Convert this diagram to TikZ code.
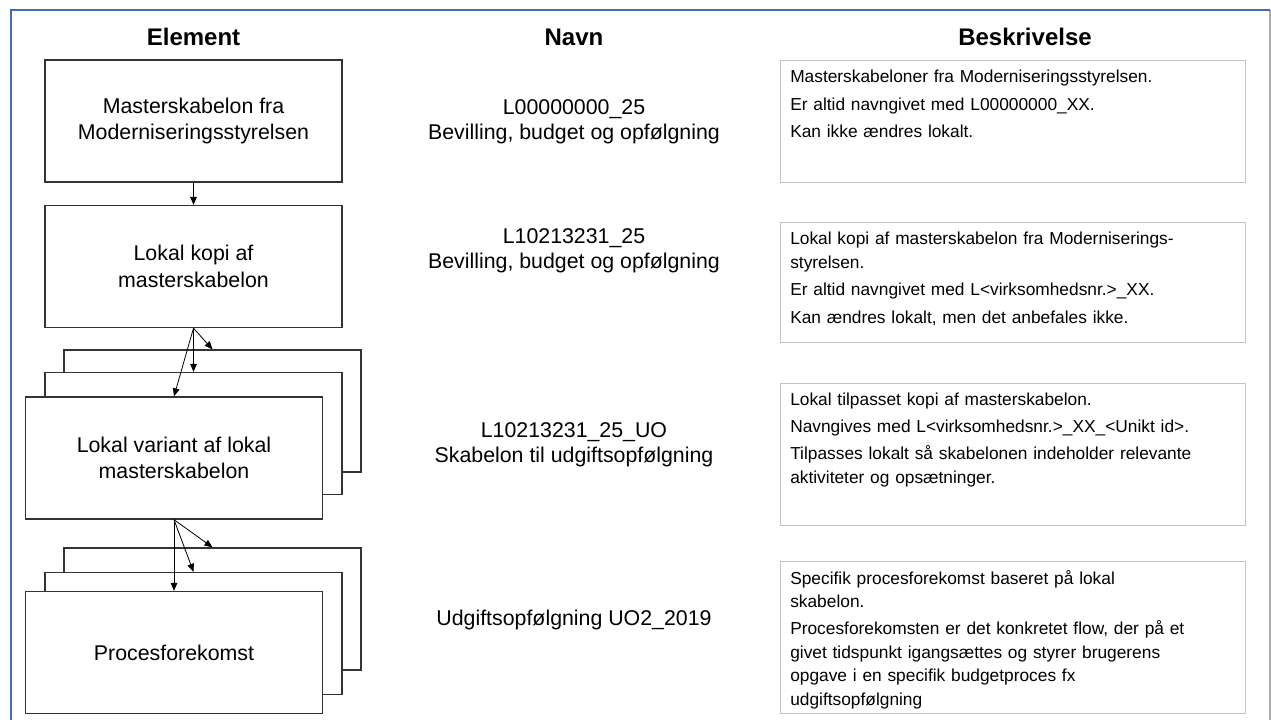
\documentclass[tikz,border=0pt]{standalone}
\usepackage{fontspec}
\setmainfont{Liberation Sans}
\usetikzlibrary{positioning, arrows.meta}

\definecolor{frameblue}{RGB}{68,106,180}
\definecolor{framegray}{RGB}{170,170,170}
\definecolor{descgray}{RGB}{195,195,195}

\begin{document}
\begin{tikzpicture}[
    x=0.75pt, y=-0.75pt,
    element/.style={
        rectangle, draw=black!80, line width=1pt,
        fill=white,
        minimum width=222.75pt, minimum height=91.5pt,
        align=center,
        font=\fontsize{16}{20}\selectfont
    },
    heading/.style={font=\fontsize{18}{22}\selectfont\bfseries},
    navn/.style={align=center, font=\fontsize{16}{18.75}\selectfont},
    descbox/.style={
        rectangle, draw=descgray, line width=0.6pt,
        minimum width=348.75pt, anchor=north west, inner sep=0pt
    },
    desctext/.style={
        anchor=base west, inner sep=0pt,
        text width=350pt, align=left,
        font=\fontsize{13}{17.6}\selectfont
    },
    flow/.style={-{Triangle[length=6pt, width=5pt]}, line width=0.6pt, draw=black}
]
\useasboundingbox (0,0) rectangle (1271,720);

% ============ Frame ============
\draw[framegray, line width=0.8pt] (1270,10) -- (1270,720);
\draw[frameblue, line width=1.2pt] (11,720) -- (11,10) -- (1270,10);

% ============ Column headings ============
\node[heading] (hElement) at (193.5,37) {Element};
\node[heading] (hNavn) at (574,37) {Navn};
\node[heading] (hBeskr) at (1025,37) {Beskrivelse};

% ============ Elements ============
\node[element] (master) at (193.5,121) {Masterskabelon fra\\Moderniseringsstyrelsen};
\node[element] (kopi) at (193.5,266.5) {Lokal kopi af\\masterskabelon};
\node[element] (variantC) at (212.5,411) {};
\node[element] (variantB) at (193.5,433.5) {};
\node[element] (variant) at (174,458) {Lokal variant af lokal\\masterskabelon};
\node[element] (procesC) at (212.5,609) {};
\node[element] (procesB) at (193.5,633.5) {};
\node[element] (proces) at (174,652.5) {Procesforekomst};

% ============ Names ============
\node[navn] (nMaster) at (574,122) {L00000000\_25\\Bevilling, budget og opfølgning};
\node[navn] (nKopi) at (574,251) {L10213231\_25\\Bevilling, budget og opfølgning};
\node[navn] (nVariant) at (574,445) {L10213231\_25\_UO\\Skabelon til udgiftsopfølgning};
\node[navn] (nProces) at (574,620) {Udgiftsopfølgning UO2\_2019};

% ============ Descriptions ============
\node[descbox, minimum height=91.5pt] (dMaster) at (780,60) {};
\node[desctext] (tMaster) at ([shift={(10,23)}]dMaster.north west) {Masterskabeloner fra Moderniseringsstyrelsen.\\[3pt]Er altid navngivet med L00000000\_XX.\\[3pt]Kan ikke ændres lokalt.};

\node[descbox, minimum height=90pt] (dKopi) at (780,222) {};
\node[desctext] (tKopi) at ([shift={(10,23)}]dKopi.north west) {Lokal kopi af masterskabelon fra Moderniserings-\\styrelsen.\\[3pt]Er altid navngivet med L<virksomhedsnr.>\_XX.\\[3pt]Kan ændres lokalt, men det anbefales ikke.};

\node[descbox, minimum height=106.5pt] (dVariant) at (780,383) {};
\node[desctext] (tVariant) at ([shift={(10,22)}]dVariant.north west) {Lokal tilpasset kopi af masterskabelon.\\[3pt]Navngives med L<virksomhedsnr.>\_XX\_<Unikt id>.\\[3pt]Tilpasses lokalt så skabelonen indeholder relevante\\aktiviteter og opsætninger.};

\node[descbox, minimum height=114pt] (dProces) at (780,561) {};
\node[desctext] (tProces) at ([shift={(10,23)}]dProces.north west) {Specifik procesforekomst baseret på lokal\\skabelon.\\[3pt]Procesforekomsten er det konkretet flow, der på et\\givet tidspunkt igangsættes og styrer brugerens\\opgave i en specifik budgetproces fx\\udgiftsopfølgning};

% ============ Flow ============
\draw[flow] (master.south) -- (kopi.north);
\draw[flow] (kopi.south) -- (variant.north);
\draw[flow] (kopi.south) -- (variantB.north);
\draw[flow] (kopi.south) -- (variantC.north);
\draw[flow] (variant.south) -- (proces.north);
\draw[flow] (variant.south) -- (procesB.north);
\draw[flow] (variant.south) -- (procesC.north);

\end{tikzpicture}
\end{document}
